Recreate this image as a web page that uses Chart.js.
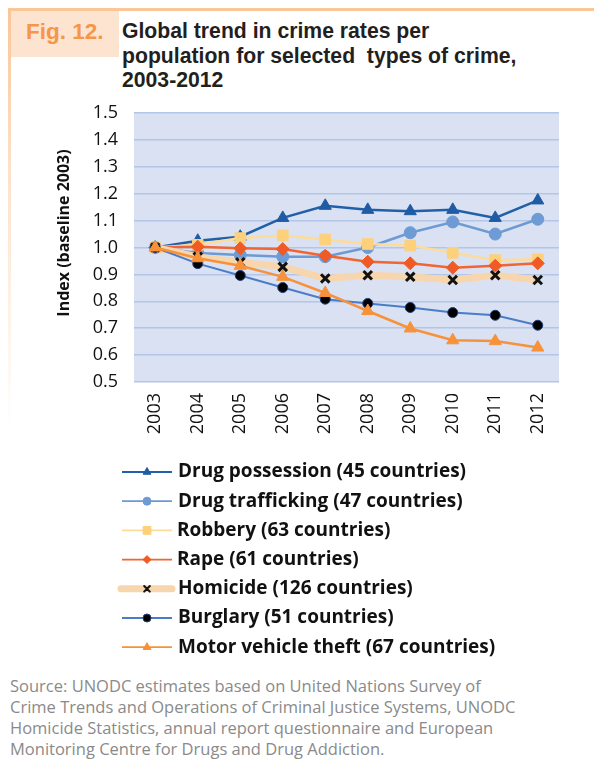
<!DOCTYPE html>
<html>
  <head>
   <meta charset='utf-8'>
   <title>Fig. 12 crime trends</title>
   <script src="https://cdn.jsdelivr.net/npm/chart.js@4.4.1/dist/chart.umd.min.js"></script>
   <style>
     body { margin: 0; width: 594px; height: 764px; background: #fff; position: relative; overflow: hidden; }
     #frameTop { position: absolute; left: 8px; top: 8px; width: 586px; height: 3px; background: #fbc596; }
     #frameLeft { position: absolute; left: 8px; top: 8px; width: 3px; height: 420px;
                  background: linear-gradient(#fbc596, rgba(251,197,150,0.5) 40%, rgba(251,197,150,0)); }
     #figBox { position: absolute; left: 11px; top: 11px; width: 108px; height: 46px; background: #fde4d0; }
     #figLabel { position: absolute; left: 26px; top: 19px; font: bold 22.5px 'Liberation Sans', Arial, sans-serif; color: #f79646; line-height: 26px; }
     #title { position: absolute; left: 122px; top: 19px; font: bold 21.2px 'Liberation Sans', Arial, sans-serif; color: #231f20; line-height: 24.5px; white-space: pre; }
     #source { position: absolute; left: 10px; top: 675px; font: 16.5px 'Open Sans', sans-serif; color: #8a8a8a; line-height: 21px; white-space: pre; }
     #wrap { position: absolute; left: 0; top: 0; width: 594px; height: 660px; }
   </style>
  </head>
  <body>
    <div id="frameTop"></div>
    <div id="frameLeft"></div>
    <div id="figBox"></div>
    <div id="figLabel">Fig. 12.</div>
    <div id="title">Global trend in crime rates per
population for selected  types of crime,
2003-2012</div>
    <div id="wrap">
      <canvas id="chart12"></canvas>
    </div>
    <div id="source">Source: UNODC estimates based on United Nations Survey of
Crime Trends and Operations of Criminal Justice Systems, UNODC
Homicide Statistics, annual report questionnaire and European
Monitoring Centre for Drugs and Drug Addiction.</div>
    <script>
      var years = ['2003', '2004', '2005', '2006', '2007', '2008', '2009', '2010', '2011', '2012'];
      var yTicks = [0.5, 0.6, 0.7, 0.8, 0.9, 1.0, 1.1, 1.2, 1.3, 1.4, 1.5];

      var drugPossession    = [1.00, 1.025, 1.04, 1.11, 1.155, 1.14, 1.135, 1.14, 1.11, 1.175];
      var drugTrafficking   = [1.00, 0.98, 0.972, 0.966, 0.966, 1.00, 1.055, 1.095, 1.05, 1.105];
      var robbery           = [1.00, 1.01, 1.035, 1.045, 1.03, 1.013, 1.007, 0.98, 0.953, 0.956];
      var rape              = [1.00, 1.003, 0.997, 0.994, 0.969, 0.947, 0.941, 0.925, 0.932, 0.941];
      var homicide          = [1.00, 0.965, 0.945, 0.928, 0.885, 0.897, 0.891, 0.879, 0.897, 0.879];
      var burglary          = [1.00, 0.94, 0.896, 0.851, 0.808, 0.792, 0.777, 0.758, 0.748, 0.711];
      var motorVehicleTheft = [1.00, 0.96, 0.932, 0.891, 0.831, 0.764, 0.699, 0.655, 0.652, 0.628];

      var seriesLabels = [
        'Drug possession (45 countries)',
        'Drug trafficking (47 countries)',
        'Robbery (63 countries)',
        'Rape (61 countries)',
        'Homicide (126 countries)',
        'Burglary (51 countries)',
        'Motor vehicle theft (67 countries)'
      ];

      // line colour, marker, marker fill / border, line width
      var styles = [
        {line: '#2160a8', style: 'triangle', r: 7,   fill: '#1f5ca4', border: '#1f5ca4', bw: 1, lw: 2.5, lr: 4.5},
        {line: '#6d9ad3', style: 'circle',   r: 6,   fill: '#6f9bd4', border: '#6f9bd4', bw: 1, lw: 2.5, lr: 4},
        {line: '#fddb98', style: 'rect',     r: 7.5, fill: '#fdd07c', border: '#fdd07c', bw: 1, lw: 2.5, lr: 5.5},
        {line: '#f26532', style: 'rectRot',  r: 6.5, fill: '#f05a24', border: '#f05a24', bw: 1, lw: 2.5, lr: 4},
        {line: '#f8d6ad', style: 'crossRot', r: 6,   fill: '#111',    border: '#111',    bw: 3, lw: 7,   lr: 4},
        {line: '#4a7cc7', style: 'circle',   r: 5,   fill: '#000',    border: '#1f3f78', bw: 1, lw: 2,   lr: 4},
        {line: '#f7923a', style: 'triangle', r: 7,   fill: '#f7923a', border: '#f7923a', bw: 1, lw: 2.5, lr: 4.5}
      ];
      var seriesData = [drugPossession, drugTrafficking, robbery, rape, homicide, burglary, motorVehicleTheft];

      var datasets = seriesData.map(function(d, i) {
        var s = styles[i];
        return {
          label: seriesLabels[i], data: d,
          borderColor: s.line, borderWidth: s.lw,
          pointStyle: s.style, pointRadius: s.r,
          pointBackgroundColor: s.fill, pointBorderColor: s.border, pointBorderWidth: s.bw,
          tension: 0, order: seriesData.length - i
        };
      });

      var plotBg = {
        id: 'plotBg',
        beforeDraw: function(chart) {
          var a = chart.chartArea, c = chart.ctx;
          c.save();
          c.fillStyle = '#d9e1f2';
          c.fillRect(a.left, a.top, a.right - a.left, a.bottom - a.top);
          c.restore();
        }
      };

      // axis title and the legend rows under the chart
      var extras = {
        id: 'extras',
        afterDraw: function(chart) {
          var c = chart.ctx;
          c.save();
          c.translate(64, 233);
          c.rotate(-Math.PI / 2);
          c.font = "bold 16px 'Open Sans'";
          c.fillStyle = '#111';
          c.textAlign = 'center';
          c.textBaseline = 'middle';
          c.fillText('Index (baseline 2003)', 0, 0);
          c.restore();

          c.save();
          c.font = "bold 19px 'Open Sans'";
          c.textBaseline = 'middle';
          seriesLabels.forEach(function(label, i) {
            var s = styles[i];
            var y = 472 + i * 29.2;
            c.beginPath();
            c.strokeStyle = s.line;
            c.lineCap = i === 4 ? 'round' : 'butt';
            c.lineWidth = i === 4 ? 7 : 1.8;
            c.moveTo(i === 4 ? 121 : 122, y);
            c.lineTo(172, y);
            c.stroke();
            c.fillStyle = s.fill;
            c.strokeStyle = s.border;
            c.lineWidth = i === 4 ? 2 : 1;
            Chart.helpers.drawPoint(c, {pointStyle: s.style, radius: s.lr, rotation: 0, borderWidth: c.lineWidth}, 147, y);
            c.fillStyle = '#111';
            c.fillText(label, (i === 2 || i === 3) ? 177 : 178, y);
          });
          c.restore();
        }
      };

      var ctx12 = document.getElementById('chart12').getContext('2d');
      var chart12 = new Chart(ctx12, {
        type: 'line',
        data: {labels: years, datasets: datasets},
        plugins: [plotBg, extras],
        options: {
          responsive: true, maintainAspectRatio: false, animation: false,
          layout: {padding: {top: 113, right: 35, bottom: 0, left: 0}},
          plugins: {legend: {display: false}, tooltip: {enabled: false}},
          scales: {
            x: {
              offset: true,
              grid: {display: false, drawTicks: false},
              border: {display: false},
              ticks: {minRotation: 90, maxRotation: 90, padding: 11, color: '#111',
                      font: {family: 'Open Sans', size: 18}},
              afterFit: function(s) { s.height = 278; }
            },
            y: {
              min: 0.5, max: 1.5,
              afterBuildTicks: function(s) { s.ticks = yTicks.map(function(v) { return {value: v}; }); },
              grid: {color: '#b4c6e7', lineWidth: 1.5, drawTicks: false},
              border: {display: false},
              ticks: {padding: 16, color: '#111', font: {family: 'Open Sans', size: 18},
                      callback: function(v) { return Number(v).toFixed(1); }},
              afterFit: function(s) { s.width = 134; }
            }
          }
        }
      });
    </script>
  </body>
</html>
